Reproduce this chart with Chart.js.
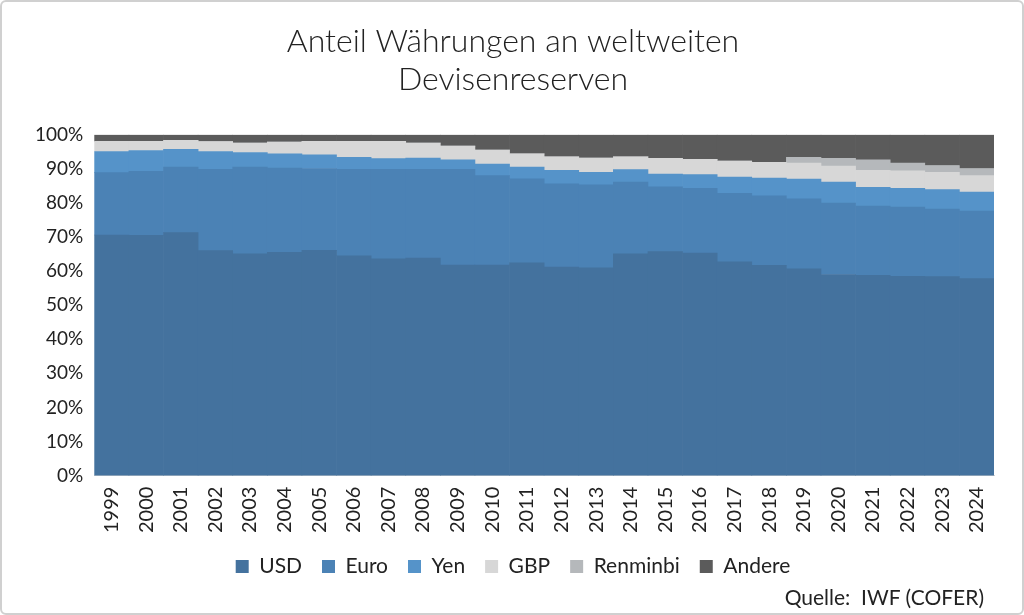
<!DOCTYPE html>
<html><head><meta charset="utf-8">
<script src="https://cdn.jsdelivr.net/npm/chart.js@4"></script>
<style>
html,body{margin:0;padding:0;background:#fff;}
#wrap{position:relative;width:1024px;height:615px;box-sizing:border-box;border:2px solid #d0d0d0;border-radius:6px;}
#src{position:absolute;right:38px;bottom:4px;font:21px Lato,"Open Sans",sans-serif;color:#222;}
</style></head><body>
<div id="wrap"><canvas id="c" width="1020" height="611"></canvas><div id="src">Quelle:&nbsp; IWF (COFER)</div></div>
<script>
const years=["1999","2000","2001","2002","2003","2004","2005","2006","2007","2008","2009","2010","2011","2012","2013","2014","2015","2016","2017","2018","2019","2020","2021","2022","2023","2024"];
const usd=[70.6,70.5,71.3,66.0,65.1,65.5,66.1,64.5,63.6,63.8,61.8,61.8,62.4,61.2,61.0,65.1,65.7,65.3,62.7,61.7,60.7,59.0,58.8,58.5,58.4,57.8];
const euro=[18.3,18.8,19.2,23.9,25.4,24.7,24.0,25.4,26.3,26.1,28.1,26.2,24.7,24.4,24.3,21.0,19.0,19.0,20.1,20.4,20.5,21.0,20.3,20.3,19.8,19.8];
const yen=[6.2,6.1,5.2,5.2,4.3,4.2,4.0,3.5,3.1,3.3,2.75,3.4,3.4,4.0,3.7,3.7,3.8,4.0,4.8,5.2,5.8,6.1,5.5,5.5,5.7,5.6];
const gbp=[3.0,2.7,2.7,2.9,2.8,3.5,4.0,4.7,5.1,4.4,4.05,4.1,3.9,3.9,4.2,3.7,4.6,4.5,4.7,4.6,4.7,4.7,5.0,5.1,5.1,4.8];
const rmb=[0,0,0,0,0,0,0,0,0,0,0,0,0,0,0,0,0,0,0,0,1.7,2.3,3.05,2.3,2.0,2.1];
const andere=[1.9,1.9,1.6,2.0,2.4,2.1,1.9,1.9,1.9,2.4,3.3,4.5,5.6,6.5,6.8,6.5,6.9,7.2,7.7,8.1,6.6,6.9,7.35,8.3,9.0,9.9];
const yTicks=[0,10,20,30,40,50,60,70,80,90,100];
const F='Lato, "Open Sans", sans-serif';
const ds=(label,data,color)=>({label,data,backgroundColor:color,borderWidth:0,barPercentage:1,categoryPercentage:1});
new Chart(document.getElementById('c'),{type:'bar',
data:{labels:years,datasets:[ds('USD',usd,'#44729e'),ds('Euro',euro,'#4b82b5'),ds('Yen',yen,'#5593c9'),ds('GBP',gbp,'#d7d7d7'),ds('Renminbi',rmb,'#b5b8bb'),ds('Andere',andere,'#5b5b5b')]},
options:{responsive:false,animation:false,
layout:{padding:{left:30,right:28,top:8,bottom:26}},
plugins:{title:{display:true,text:['Anteil Währungen an weltweiten','Devisenreserven'],color:'#222',font:{family:F,size:32,weight:'300'},padding:{top:12,bottom:36},lineHeight:1.2},
legend:{position:'bottom',labels:{color:'#222',font:{family:F,size:21},boxWidth:13,boxHeight:13,padding:20}},tooltip:{enabled:false}},
scales:{x:{stacked:true,grid:{display:false},border:{color:'#d0d0d0'},ticks:{color:'#222',font:{family:F,size:20},maxRotation:90,minRotation:90}},
y:{stacked:true,min:0,max:100,grid:{display:false},border:{display:false},afterBuildTicks:a=>{a.ticks=yTicks.map(v=>({value:v}));},
ticks:{color:'#222',font:{family:F,size:19},callback:v=>v+'%'}}}}});
</script></body></html>
